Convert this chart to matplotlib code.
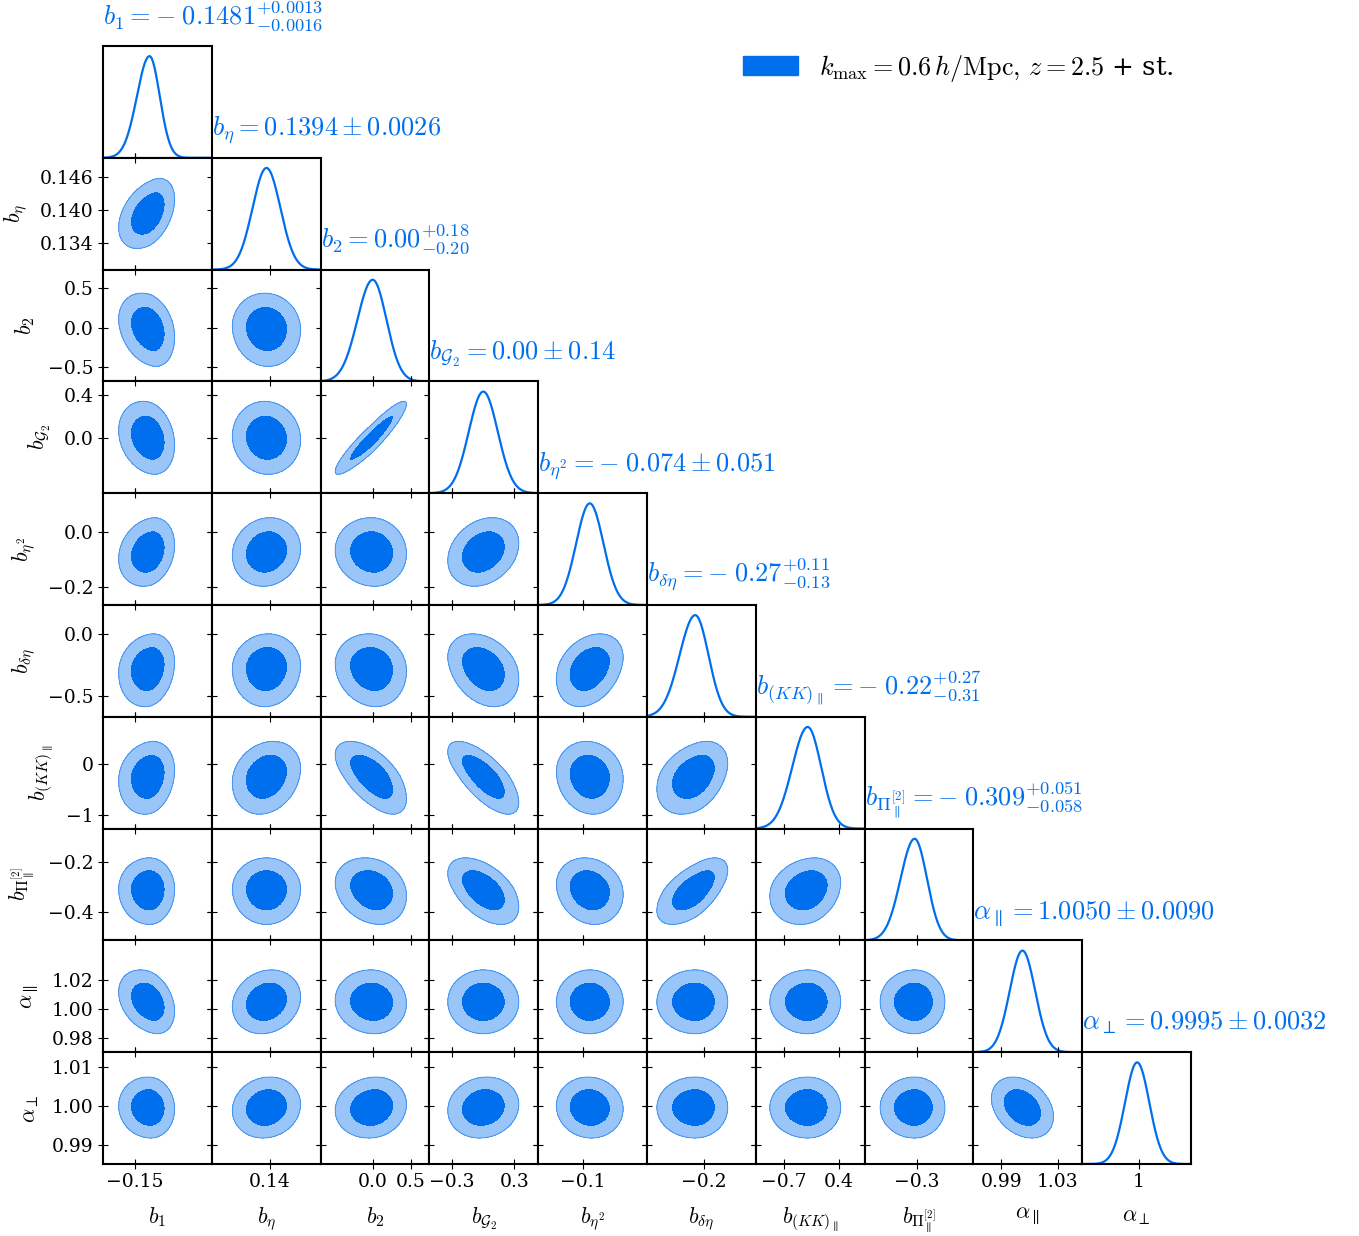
import numpy as np
import matplotlib
matplotlib.use('Agg')
import matplotlib.pyplot as plt
from matplotlib.patches import Patch

plt.rcParams['mathtext.fontset'] = 'cm'
plt.rcParams['font.family'] = ['DejaVu Serif']

labels = [r'$b_1$', r'$b_\eta$', r'$b_2$', r'$b_{\mathcal{G}_2}$', r'$b_{\eta^2}$',
          r'$b_{\delta\eta}$', r'$b_{(KK)_\parallel}$', r'$b_{\Pi^{[2]}_\parallel}$',
          r'$\alpha_\parallel$', r'$\alpha_\perp$']
means = [-0.1481, 0.1394, 0.00, 0.00, -0.074, -0.27, -0.22, -0.309, 1.0050, 0.9995]
err_up = [0.0013, 0.0026, 0.18, 0.14, 0.051, 0.11, 0.27, 0.051, 0.0090, 0.0032]
err_dn = [0.0016, 0.0026, 0.20, 0.14, 0.051, 0.13, 0.31, 0.058, 0.0090, 0.0032]
titles = [r'$b_1 = -\;0.1481^{+0.0013}_{-0.0016}$',
          r'$b_\eta = 0.1394\pm 0.0026$',
          r'$b_2 = 0.00^{+0.18}_{-0.20}$',
          r'$b_{\mathcal{G}_2} = 0.00\pm 0.14$',
          r'$b_{\eta^2} = -\;0.074\pm 0.051$',
          r'$b_{\delta\eta} = -\;0.27^{+0.11}_{-0.13}$',
          r'$b_{(KK)_\parallel} = -\;0.22^{+0.27}_{-0.31}$',
          r'$b_{\Pi^{[2]}_\parallel} = -\;0.309^{+0.051}_{-0.058}$',
          r'$\alpha_\parallel = 1.0050\pm 0.0090$',
          r'$\alpha_\perp = 0.9995\pm 0.0032$']

# intervalli degli assi
lims = [(-0.1540, -0.1402), (0.1292, 0.1495), (-0.68, 0.74), (-0.52, 0.53),
        (-0.267, 0.140), (-0.67, 0.232), (-1.26, 0.92), (-0.515, -0.067),
        (0.9702, 1.0474), (0.9850, 1.0137)]

xticks = [[-0.15], [0.14], [0.0, 0.5], [-0.3, 0.3], [-0.1], [-0.2], [-0.7, 0.4],
          [-0.3], [0.99, 1.03], [1.0]]
xticklabels = [['−0.15'], ['0.14'], ['0.0', '0.5'], ['−0.3', '0.3'], ['−0.1'], ['−0.2'],
               ['−0.7', '0.4'], ['−0.3'], ['0.99', '1.03'], ['1']]
yticks = [[], [0.134, 0.140, 0.146], [-0.5, 0.0, 0.5], [0.0, 0.4], [-0.2, 0.0],
          [-0.5, 0.0], [-1, 0], [-0.4, -0.2], [0.98, 1.00, 1.02], [0.99, 1.00, 1.01]]
yticklabels = [[], ['0.134', '0.140', '0.146'], ['−0.5', '0.0', '0.5'], ['0.0', '0.4'],
               ['−0.2', '0.0'], ['−0.5', '0.0'], ['−1', '0'], ['−0.4', '−0.2'],
               ['0.98', '1.00', '1.02'], ['0.99', '1.00', '1.01']]

# correlazioni (triangolo inferiore), corr[i][j] con j < i
corr = [
    [],
    [0.40],
    [-0.25, -0.05],
    [-0.20, -0.05, 0.92],
    [0.20, 0.10, -0.05, 0.25],
    [0.15, 0.05, -0.10, -0.30, 0.30],
    [0.15, 0.20, -0.60, -0.70, -0.10, 0.35],
    [0.00, 0.00, -0.20, -0.50, -0.15, 0.60, 0.20],
    [-0.30, 0.15, -0.05, 0.00, 0.00, 0.00, 0.00, 0.00],
    [-0.05, 0.10, 0.10, 0.10, -0.05, 0.00, 0.00, 0.00, -0.30],
]

legend_label = r'$k_{\rm max} = 0.6\,h/{\rm Mpc},\,z = 2.5$ + st.'

col = '#006FED'
col_light = '#99C5F8'
n = len(labels)


def scaled(v, i):
    # deviazione normalizzata con sigma asimmetrica
    d = v - means[i]
    return np.where(d > 0, d / err_up[i], d / err_dn[i])


fig = plt.figure(figsize=(13.59, 12.36), dpi=100)
x0, x1 = 103 / 1359, 1191 / 1359
y0, y1 = 1 - 1164 / 1236, 1 - 46 / 1236
w = (x1 - x0) / n
h = (y1 - y0) / n

for i in range(n):
    for j in range(i + 1):
        ax = fig.add_axes([x0 + j * w, y1 - (i + 1) * h, w, h])
        for s in ax.spines.values():
            s.set_linewidth(1.5)
        xs = np.linspace(lims[j][0], lims[j][1], 300)
        if i == j:
            ax.plot(xs, np.exp(-0.5 * scaled(xs, j) ** 2), color=col, lw=1.6)
            ax.set_ylim(0, 1.1)
            ax.set_yticks([])
            ax.tick_params(axis='x', direction='inout', length=6.5, width=0.8,
                           top=False, bottom=True, labelsize=13.5)
            ax.set_title(titles[i], loc='left', color=col, fontsize=19, pad=16)
        else:
            ys = np.linspace(lims[i][0], lims[i][1], 300)
            X, Y = np.meshgrid(xs, ys)
            dx = scaled(X, j)
            dy = scaled(Y, i)
            r = corr[i][j]
            d2 = (dx ** 2 - 2 * r * dx * dy + dy ** 2) / (1 - r ** 2)
            ax.contourf(X, Y, d2, levels=[0, 2.30, 5.99], colors=[col, col_light])
            ax.contour(X, Y, d2, levels=[5.99], colors=[col], linewidths=0.7, alpha=0.6)
            ax.set_ylim(lims[i])
            ax.set_yticks(yticks[i], [] if j > 0 else yticklabels[i])
            ax.tick_params(direction='inout', length=6.5, width=0.8, top=True,
                           right=True, labelsize=13.5)
            if j == 0:
                ax.set_ylabel(labels[i], fontsize=16, labelpad=8)
        ax.set_xlim(lims[j])
        ax.set_xticks(xticks[j], xticklabels[j] if i == n - 1 else [])
        if i == n - 1:
            ax.set_xlabel(labels[j], fontsize=16, labelpad=10)

fig.legend(handles=[Patch(color=col)], labels=[legend_label], loc='center left',
           bbox_to_anchor=(743 / 1359, 1 - 68 / 1236), frameon=False, borderpad=0,
           borderaxespad=0, fontsize=18.8, handlelength=2.1, handleheight=0.75,
           handletextpad=0.8)

fig.savefig('out.png', dpi=100)
